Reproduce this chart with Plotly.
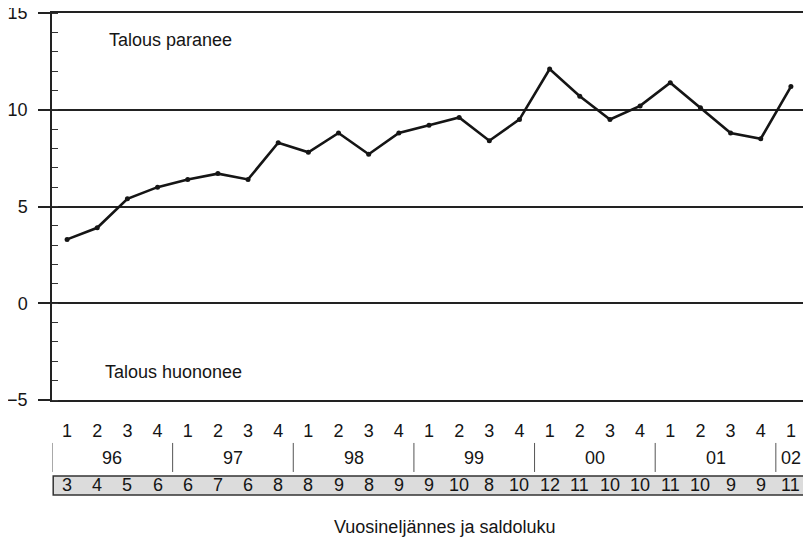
import plotly.graph_objects as go

# Saldoluku neljänneksittäin 1996Q1 - 2002Q1
kvartaalit = ["1", "2", "3", "4"] * 6 + ["1"]
vuodet = ["96", "97", "98", "99", "00", "01", "02"]
vuoden_kvartaalit = [4, 4, 4, 4, 4, 4, 1]
saldo = [3.3, 3.9, 5.4, 6.0, 6.4, 6.7, 6.4, 8.3, 7.8, 8.8, 7.7, 8.8,
         9.2, 9.6, 8.4, 9.5, 12.1, 10.7, 9.5, 10.2, 11.4, 10.1, 8.8, 8.5, 11.2]
saldoluku = [3, 4, 5, 6, 6, 7, 6, 8, 8, 9, 8, 9,
             9, 10, 8, 10, 12, 11, 10, 10, 11, 10, 9, 9, 11]
y_ticks = [-5, 0, 5, 10, 15]

FONT = "Liberation Sans, Arial, sans-serif"
INK = "#151515"

x = list(range(len(saldo)))

fig = go.Figure()
fig.add_trace(go.Scatter(
    x=x, y=saldo, mode="lines+markers",
    line=dict(color=INK, width=2.6),
    marker=dict(color=INK, size=5),
    showlegend=False,
))

annotations = [
    dict(text="Talous paranee", x=0.073, y=0.930, xref="paper", yref="paper",
         xanchor="left", yanchor="middle", showarrow=False),
    dict(text="Talous huononee", x=0.068, y=0.072, xref="paper", yref="paper",
         xanchor="left", yanchor="middle", showarrow=False),
    dict(text="Vuosineljännes ja saldoluku", x=0.52, y=-0.328, xref="paper", yref="paper",
         xanchor="center", yanchor="middle", showarrow=False),
]
shapes = []

# vuosirivi ja erotinviivat
alku = 0
rajat = [-0.5]
for vuosi, n in zip(vuodet, vuoden_kvartaalit):
    annotations.append(dict(text=vuosi, x=alku + (n - 1) / 2, y=-0.150, xref="x", yref="paper",
                            xanchor="center", yanchor="middle", showarrow=False))
    alku += n
    rajat.append(alku - 0.5)
for r in rajat:
    shapes.append(dict(type="line", xref="x", yref="paper", x0=r, x1=r, y0=-0.111, y1=-0.186,
                       line=dict(color="#555", width=1)))

# saldolukunauha
shapes.append(dict(type="rect", xref="x", yref="paper", x0=-0.46, x1=24.5, y0=-0.2455, y1=-0.1964,
                   fillcolor="#dcdcdc", line=dict(color="#333", width=1.5), layer="below"))
for i, s in enumerate(saldoluku):
    annotations.append(dict(text=str(s), x=i, y=-0.2196, xref="x", yref="paper",
                            xanchor="center", yanchor="middle", showarrow=False))

# sivun oletusmarginaali (8 px) huomioitu koossa
fig.update_layout(
    width=803, height=529,
    margin=dict(l=44, r=5, t=5, b=137, autoexpand=False),
    paper_bgcolor="white",
    plot_bgcolor="white",
    font=dict(family=FONT, size=18, color=INK),
    annotations=annotations,
    shapes=shapes,
    xaxis=dict(
        range=[-0.5, 24.5], tickvals=x, ticktext=kvartaalit,
        showgrid=False, zeroline=False, ticks="",
        showline=True, mirror=True, linecolor="#222", linewidth=1.5,
        ticklabelstandoff=14, automargin=False,
    ),
    yaxis=dict(
        range=[-5, 15], tickvals=y_ticks,
        showgrid=True, gridcolor="#222", gridwidth=1.5, zeroline=False,
        ticks="outside", ticklen=12, tickcolor="#222", tickwidth=1.5,
        minor=dict(dtick=1, ticks="inside", ticklen=6, tickcolor="#333", tickwidth=1, showgrid=False),
        showline=True, mirror=True, linecolor="#222", linewidth=1.5,
        ticklabelstandoff=7, ticklabeloverflow="allow", automargin=False,
    ),
)

fig.write_html("out.html")
